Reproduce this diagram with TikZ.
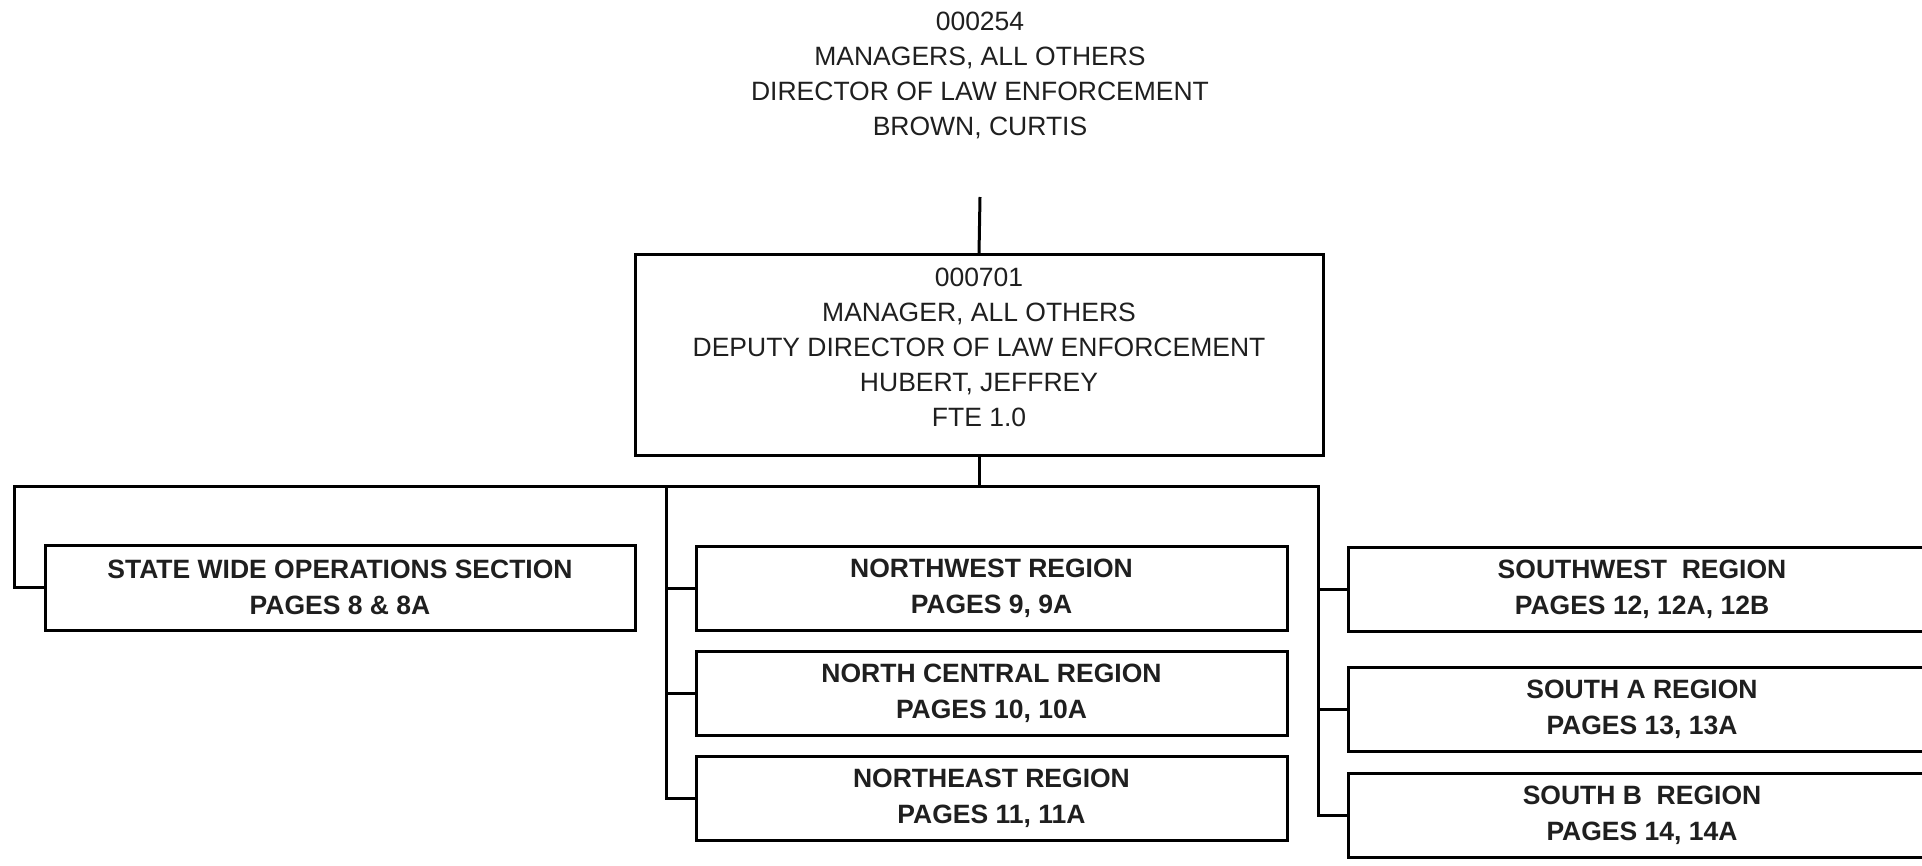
\documentclass[tikz,border=0pt]{standalone}
\usepackage{fontspec}
\setmainfont{Liberation Sans}
\definecolor{ink}{gray}{0.12}
\begin{document}
\begin{tikzpicture}[x=1pt,y=-1pt,
  line width=3pt,
  every node/.style={inner sep=0pt},
  titletext/.style={align=center, font=\fontsize{26.5}{35}\selectfont, text=ink},
  orgbox/.style={draw, align=center, minimum width=590pt, minimum height=84pt,
    font=\fontsize{26.5}{36}\selectfont\bfseries, text=ink},
  link/.style={draw, line width=3pt}]

\clip (0,0) rectangle (1922,866);

% head of the division (no box)
\node[titletext, anchor=north] (director) at (980,10)
  {000254\\MANAGERS, ALL OTHERS\\DIRECTOR OF LAW ENFORCEMENT\\BROWN, CURTIS};

% deputy director box
\node[draw, titletext, minimum width=688pt, minimum height=200pt] (deputy) at (979,355)
  {000701\\MANAGER, ALL OTHERS\\DEPUTY DIRECTOR OF LAW ENFORCEMENT\\HUBERT, JEFFREY\\FTE 1.0\rule[-15pt]{0pt}{0pt}};

% sections and regions
\node[orgbox, minimum height=85pt] (statewide) at (340,587.5)
  {STATE WIDE OPERATIONS SECTION\\PAGES 8 \& 8A};

\node[orgbox, minimum width=591pt] (northwest) at (991.5,588)
  {NORTHWEST REGION\\PAGES 9, 9A};
\node[orgbox, minimum width=591pt] (northcentral) at (991.5,693.5)
  {NORTH CENTRAL REGION\\PAGES 10, 10A};
\node[orgbox, minimum width=591pt] (northeast) at (991.5,798.5)
  {NORTHEAST REGION\\PAGES 11, 11A};

\node[orgbox, minimum width=588pt] (southwest) at (1642,589)
  {SOUTHWEST\ \ REGION\\PAGES 12, 12A, 12B};
\node[orgbox, minimum width=588pt] (southa) at (1642,709)
  {SOUTH A REGION\\PAGES 13, 13A};
\node[orgbox, minimum width=588pt] (southb) at (1642,815)
  {SOUTH B\ \ REGION\\PAGES 14, 14A};

% connector points
\coordinate (dirfoot) at (980,197);
\coordinate (busL) at (14,486);
\coordinate (busM) at (666,486);
\coordinate (busR) at (1318,486);

% connectors
\draw[link] (dirfoot) -- (deputy.north);
\draw[link] (deputy.south) -- (deputy.south |- busL);
\draw[link] (statewide.west) -| (busL) -- (busR) |- (southb.west);
\draw[link] (busM) |- (northeast.west);
\draw[link] (northwest.west) -- (northwest.west -| busM);
\draw[link] (northcentral.west) -- (northcentral.west -| busM);
\draw[link] (southwest.west) -- (southwest.west -| busR);
\draw[link] (southa.west) -- (southa.west -| busR);
\end{tikzpicture}
\end{document}
